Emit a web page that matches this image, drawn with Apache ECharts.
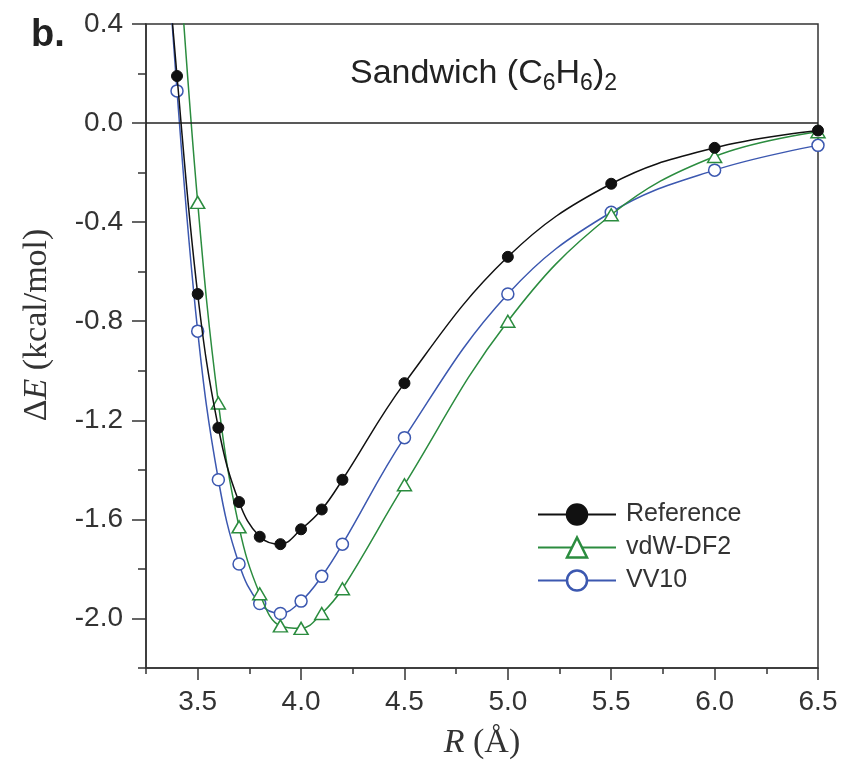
<!DOCTYPE html>
<html>
<head>
<meta charset="utf-8">
<script src="https://cdn.jsdelivr.net/npm/echarts@6/dist/echarts.min.js"></script>
<style>html,body{margin:0;padding:0;background:#fff;}#c{width:848px;height:775px;}</style>
</head>
<body>
<div id="c"></div>
<script>
// ---- data ----
// the first point of Reference / VV10 (3.3) and of vdW-DF2 (3.4) lies above the plot top and is clipped
const R_ref   = [3.3, 3.4, 3.5, 3.6, 3.7, 3.8, 3.9, 4.0, 4.1, 4.2, 4.5, 5.0, 5.5, 6.0, 6.5];
const E_ref   = [1.2, 0.19, -0.69, -1.23, -1.53, -1.67, -1.70, -1.64, -1.56, -1.44, -1.05, -0.54, -0.245, -0.10, -0.03];
const R_vdw   = [3.4, 3.5, 3.6, 3.7, 3.8, 3.9, 4.0, 4.1, 4.2, 4.5, 5.0, 5.5, 6.0, 6.5];
const E_vdw   = [0.8, -0.32, -1.13, -1.63, -1.90, -2.03, -2.04, -1.98, -1.88, -1.46, -0.80, -0.37, -0.135, -0.035];
const R_vv10  = [3.3, 3.4, 3.5, 3.6, 3.7, 3.8, 3.9, 4.0, 4.1, 4.2, 4.5, 5.0, 5.5, 6.0, 6.5];
const E_vv10  = [1.35, 0.13, -0.84, -1.44, -1.78, -1.94, -1.98, -1.93, -1.83, -1.70, -1.27, -0.69, -0.36, -0.19, -0.09];

const xMajorTicks = [3.5, 4.0, 4.5, 5.0, 5.5, 6.0, 6.5];
const xMinorTicks = [3.25, 3.75, 4.25, 4.75, 5.25, 5.75, 6.25];
const yMajorTicks = [-2.0, -1.6, -1.2, -0.8, -0.4, 0.0, 0.4];
const yMinorTicks = [-2.2, -1.8, -1.4, -1.0, -0.6, -0.2, 0.2];
const xRange = [3.25, 6.5];
const yRange = [-2.2, 0.4];

const seriesNames = ['Reference', 'vdW-DF2', 'VV10'];

function pairs(xs, ys) { return xs.map((x, i) => [x, ys[i]]); }

const SANS = '"Liberation Sans", Arial, sans-serif';
const SERIF = '"Liberation Serif", "Times New Roman", serif';
const AX = '#333';
const GREEN = '#2b8c3f';
const BLUE = '#3c58b0';
const BLACK = '#111';

const grid = { left: 146, right: 30, top: 24, bottom: 107 };

const chart = echarts.init(document.getElementById('c'), null, { renderer: 'canvas' });
chart.setOption({
  animation: false,
  backgroundColor: '#fff',
  title: [
    { text: 'b.', left: 26, top: 12,
      textStyle: { fontFamily: SANS, fontSize: 38, fontWeight: 'bold', color: '#222' } },
    { text: '{n|Sandwich (C}{s|6}{n|H}{s|6}{n|)}{s|2}', left: 345, top: 49,
      textStyle: { fontWeight: 'normal', rich: {
        n: { fontFamily: SANS, fontSize: 34, fontWeight: 'normal', color: '#222', lineHeight: 40 },
        s: { fontFamily: SANS, fontSize: 23, fontWeight: 'normal', color: '#222', lineHeight: 40, padding: [20, 0, 0, 0] }
      } } }
  ],
  legend: {
    orient: 'vertical', left: 532, top: 497,
    itemWidth: 78, itemHeight: 25, itemGap: 8,
    data: seriesNames,
    itemStyle: { borderWidth: 2.5 },
    textStyle: { fontFamily: SANS, fontSize: 25, color: '#333', padding: [0, 0, 0, 5] }
  },
  grid: [
    Object.assign({ show: true, borderColor: AX, borderWidth: 1.5, backgroundColor: 'transparent' }, grid),
    Object.assign({}, grid)
  ],
  xAxis: [
    { type: 'value', gridIndex: 0, min: xRange[0], max: xRange[1], position: 'bottom',
      axisLine: { show: true, onZero: false, lineStyle: { color: AX, width: 1.5 } },
      axisTick: { show: true, length: 12, lineStyle: { color: AX, width: 1.5 }, customValues: xMajorTicks },
      axisLabel: { show: true, customValues: xMajorTicks, margin: 20, fontFamily: SANS, fontSize: 28, color: '#333',
        formatter: v => v.toFixed(1) },
      splitLine: { show: false },
      name: '{i|R}{n| (Å)}', nameLocation: 'middle', nameGap: 58,
      nameTextStyle: { rich: {
        i: { fontFamily: SERIF, fontSize: 34, fontStyle: 'italic', color: '#333' },
        n: { fontFamily: SERIF, fontSize: 34, color: '#333' } } } },
    { type: 'value', gridIndex: 1, min: xRange[0], max: xRange[1], position: 'bottom',
      axisLine: { show: false, onZero: false },
      axisTick: { show: true, length: 6, lineStyle: { color: AX, width: 1.5 }, customValues: xMinorTicks },
      axisLabel: { show: false }, splitLine: { show: false } }
  ],
  yAxis: [
    { type: 'value', gridIndex: 0, min: yRange[0], max: yRange[1], position: 'left',
      axisLine: { show: true, onZero: false, lineStyle: { color: AX, width: 1.5 } },
      axisTick: { show: true, length: 14, lineStyle: { color: AX, width: 1.5 }, customValues: yMajorTicks },
      axisLabel: { show: true, customValues: yMajorTicks, margin: 23, fontFamily: SANS, fontSize: 28, color: '#333',
        formatter: v => v.toFixed(1) },
      splitLine: { show: false },
      name: '{n|Δ}{i|E}{n| (kcal/mol)}', nameLocation: 'middle', nameGap: 92,
      nameTextStyle: { padding: [0, 0, 0, 42], rich: {
        i: { fontFamily: SERIF, fontSize: 34, fontStyle: 'italic', color: '#333' },
        n: { fontFamily: SERIF, fontSize: 34, color: '#333' } } } },
    { type: 'value', gridIndex: 1, min: yRange[0], max: yRange[1], position: 'left',
      axisLine: { show: false, onZero: false },
      axisTick: { show: true, length: 8, lineStyle: { color: AX, width: 1.5 }, customValues: yMinorTicks },
      axisLabel: { show: false }, splitLine: { show: false } }
  ],
  series: [
    { name: 'VV10', type: 'line', xAxisIndex: 0, yAxisIndex: 0, smooth: 0.4, clip: true,
      data: pairs(R_vv10, E_vv10),
      symbol: 'circle', symbolSize: 12,
      itemStyle: { color: '#fff', borderColor: BLUE, borderWidth: 1.5 },
      lineStyle: { color: BLUE, width: 1.5 }, z: 3 },
    { name: 'vdW-DF2', type: 'line', xAxisIndex: 0, yAxisIndex: 0, smooth: 0.4, clip: true,
      data: pairs(R_vdw, E_vdw),
      symbol: 'triangle', symbolSize: [14, 12],
      itemStyle: { color: '#fff', borderColor: GREEN, borderWidth: 1.5 },
      lineStyle: { color: GREEN, width: 1.5 }, z: 4 },
    { name: 'Reference', type: 'line', xAxisIndex: 0, yAxisIndex: 0, smooth: 0.4, clip: true,
      data: pairs(R_ref, E_ref),
      symbol: 'circle', symbolSize: 11,
      itemStyle: { color: BLACK, borderColor: BLACK, borderWidth: 1 },
      lineStyle: { color: BLACK, width: 1.5 }, z: 5,
      markLine: { silent: true, symbol: ['none', 'none'], label: { show: false },
        lineStyle: { color: '#222', width: 1.5, type: 'solid' },
        data: [{ yAxis: 0 }] } }
  ]
});
</script>
</body>
</html>
